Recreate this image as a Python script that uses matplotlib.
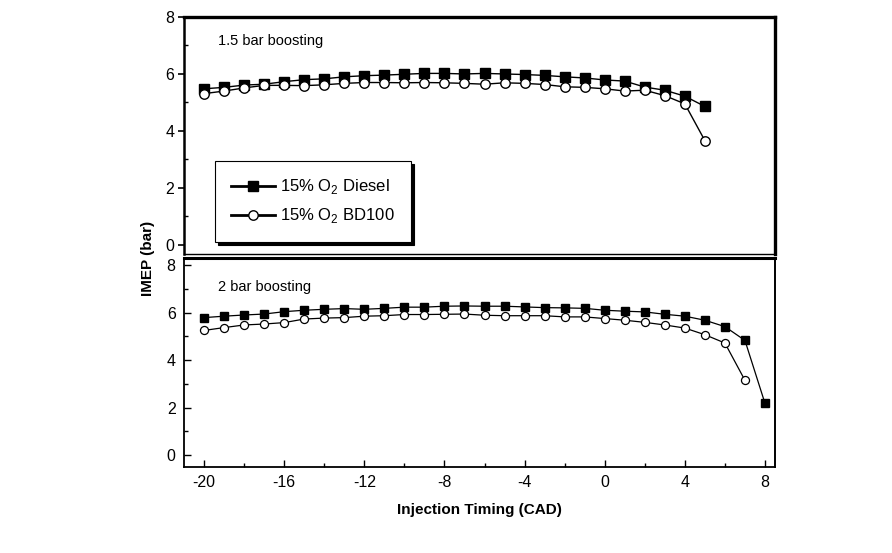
import matplotlib
matplotlib.use("Agg")
import matplotlib.pyplot as plt
from matplotlib.ticker import MultipleLocator

plt.rcParams['font.family'] = ['Liberation Sans', 'DejaVu Sans']
plt.rcParams['mathtext.fontset'] = 'custom'
plt.rcParams['mathtext.rm'] = 'Liberation Sans'
plt.rcParams['axes.unicode_minus'] = False

# 1.5 bar boosting
x_top = list(range(-20, 6))
diesel_top = [5.48, 5.53, 5.61, 5.64, 5.73, 5.80, 5.83, 5.90, 5.94, 5.96, 5.99, 6.02, 6.02,
              6.00, 6.02, 6.00, 5.98, 5.95, 5.90, 5.86, 5.79, 5.75, 5.54, 5.43, 5.22, 4.86]
bd100_top = [5.31, 5.40, 5.51, 5.60, 5.60, 5.59, 5.62, 5.67, 5.70, 5.70, 5.69, 5.70, 5.69,
             5.67, 5.64, 5.69, 5.67, 5.63, 5.55, 5.53, 5.48, 5.40, 5.43, 5.24, 4.95, 3.66]

# 2 bar boosting
x_bot_diesel = list(range(-20, 9))
diesel_bot = [5.79, 5.85, 5.90, 5.94, 6.04, 6.10, 6.14, 6.17, 6.14, 6.18, 6.23, 6.23, 6.27,
              6.28, 6.27, 6.27, 6.24, 6.21, 6.20, 6.18, 6.10, 6.06, 6.03, 5.93, 5.85, 5.68,
              5.41, 4.83, 2.18]
x_bot_bd = list(range(-20, 8))
bd100_bot = [5.25, 5.37, 5.48, 5.52, 5.58, 5.73, 5.77, 5.79, 5.85, 5.87, 5.92, 5.92, 5.93,
             5.94, 5.89, 5.87, 5.87, 5.87, 5.82, 5.82, 5.75, 5.68, 5.59, 5.48, 5.35, 5.07,
             4.72, 3.15]

x_ticks = [-20, -16, -12, -8, -4, 0, 4, 8]
y_ticks = [0, 2, 4, 6, 8]
labels = ['15% O$_\\mathregular{2}$ Diesel', '15% O$_\\mathregular{2}$ BD100']
panel_titles = ['1.5 bar boosting', '2 bar boosting']

fig = plt.figure(figsize=(8.92, 5.53), dpi=100)
L, W = 184 / 892, 591 / 892
ax1 = fig.add_axes([L, 1 - 254 / 553, W, 237 / 553])
ax2 = fig.add_axes([L, 1 - 467 / 553, W, 209 / 553])

# top panel
ax1.plot(x_top, diesel_top, '-', color='black', lw=1.0, marker='s', ms=6.8,
         mfc='black', mec='black', label=labels[0])
ax1.plot(x_top, bd100_top, '-', color='black', lw=1.0, marker='o', ms=6.8,
         mfc='white', mec='black', mew=1.0, label=labels[1])
ax1.set_xlim(-21, 8.5)
ax1.set_ylim(-0.32, 8)
ax1.set_xticks([])
ax1.set_yticks(y_ticks)
ax1.yaxis.set_minor_locator(MultipleLocator(1))
ax1.tick_params(axis='y', which='major', direction='out', length=4, width=1.2,
                labelsize=11.5, pad=3)
ax1.tick_params(axis='y', which='minor', direction='in', length=3, width=1.0)
for s, w in [('top', 2.4), ('right', 2.4), ('left', 1.8), ('bottom', 1.0)]:
    ax1.spines[s].set_linewidth(w)
ax1.text(0.057, 0.9, panel_titles[0], transform=ax1.transAxes, fontsize=10.5,
         ha='left', va='center')
leg = ax1.legend(loc='lower left', bbox_to_anchor=(0.052, 0.05), fontsize=12,
                 frameon=True, fancybox=False, edgecolor='black', framealpha=1,
                 handlelength=2.6, handletextpad=0.3, borderpad=1.0, labelspacing=0.6,
                 borderaxespad=0.0,
                 shadow={'color': 'black', 'alpha': 1})
leg.get_frame().set_linewidth(0.8)
for h in leg.legend_handles:
    h.set_linewidth(2.0)

# bottom panel
ax2.plot(x_bot_diesel, diesel_bot, '-', color='black', lw=0.9, marker='s', ms=5.3,
         mfc='black', mec='black')
ax2.plot(x_bot_bd, bd100_bot, '-', color='black', lw=0.9, marker='o', ms=5.8,
         mfc='white', mec='black', mew=0.9)
ax2.set_xlim(-21, 8.5)
ax2.set_ylim(-0.5, 8.3)
ax2.set_xticks(x_ticks)
ax2.set_yticks(y_ticks)
ax2.xaxis.set_minor_locator(MultipleLocator(2))
ax2.yaxis.set_minor_locator(MultipleLocator(1))
ax2.tick_params(axis='both', which='major', direction='in', length=5, width=1.0,
                labelsize=11.5, pad=6)
ax2.tick_params(axis='both', which='minor', direction='in', length=3, width=1.0)
for s, w in [('top', 2.2), ('right', 1.4), ('left', 1.3), ('bottom', 1.3)]:
    ax2.spines[s].set_linewidth(w)
ax2.text(0.057, 0.86, panel_titles[1], transform=ax2.transAxes, fontsize=10.5,
         ha='left', va='center')
ax2.set_xlabel('Injection Timing (CAD)', fontsize=11, fontweight='bold', labelpad=9)

fig.text(148 / 892, 1 - 258 / 553, 'IMEP (bar)', rotation=90, fontsize=11,
         fontweight='bold', ha='center', va='center')

fig.savefig('out.png', dpi=100)
